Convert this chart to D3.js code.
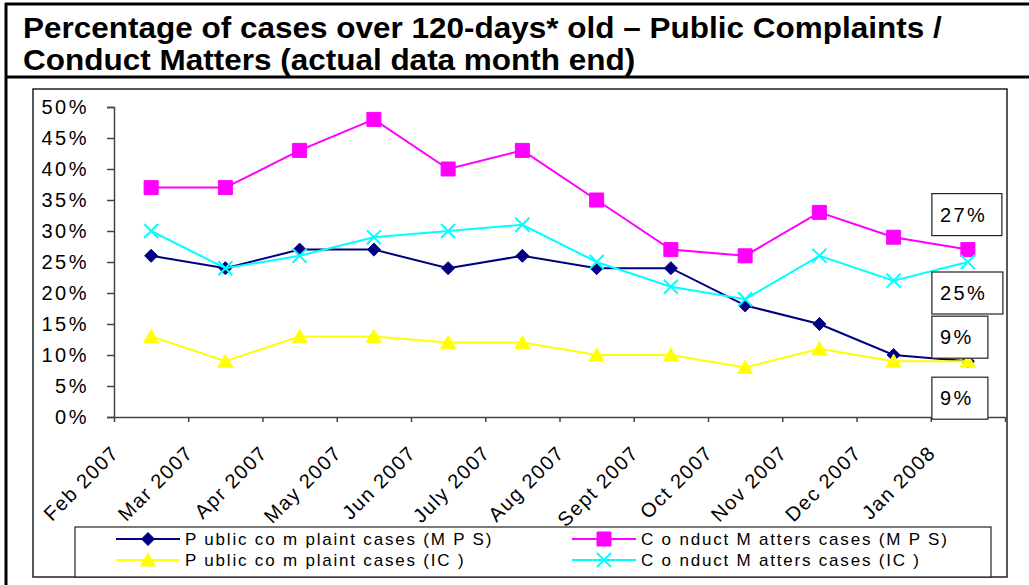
<!DOCTYPE html>
<html>
<head>
<meta charset="utf-8">
<script src="https://cdn.jsdelivr.net/npm/d3@7"></script>
<style>
  body { margin: 0; background: #fff; }
  text { font-family: "Liberation Sans", Arial, sans-serif; }
</style>
</head>
<body>
<div id="chart"></div>
<script>
// Chart data
var months = ["Feb 2007", "Mar 2007", "Apr 2007", "May 2007", "Jun 2007", "July 2007",
  "Aug 2007", "Sept 2007", "Oct 2007", "Nov 2007", "Dec 2007", "Jan 2008"];
var publicMPS = [26, 24, 27, 27, 24, 26, 24, 24, 18, 15, 10, 9];
var conductMPS = [37, 37, 43, 48, 40, 43, 35, 27, 26, 33, 29, 27];
var publicIC = [13, 9, 13, 13, 12, 12, 10, 10, 8, 11, 9, 9];
var conductIC = [30, 24, 26, 29, 30, 31, 25, 21, 19, 26, 22, 25];
var yTicks = [0, 5, 10, 15, 20, 25, 30, 35, 40, 45, 50];
var seriesNames = ["P ublic co m plaint cases (M P S)", "C o nduct M atters cases (M P S)",
  "P ublic co m plaint cases (IC )", "C o nduct M atters cases (IC )"];

var svgWidth = 1029;
var svgHeight = 585;

var svg = d3.select("#chart")
  .append("svg")
  .attr("width", svgWidth)
  .attr("height", svgHeight);

svg.append("rect").attr("width", svgWidth).attr("height", svgHeight).attr("fill", "#fff");

// outer frame + title band
svg.append("line").attr("x1", 6).attr("y1", 3).attr("x2", 6).attr("y2", svgHeight)
  .attr("stroke", "#000").attr("stroke-width", 3);
svg.append("line").attr("x1", 5).attr("y1", 4).attr("x2", svgWidth).attr("y2", 4)
  .attr("stroke", "#000").attr("stroke-width", 3);
svg.append("line").attr("x1", 5).attr("y1", 77).attr("x2", svgWidth).attr("y2", 77)
  .attr("stroke", "#000").attr("stroke-width", 3);

// title is a bit wider than Liberation Sans, so stretch it horizontally
var title = svg.append("text")
  .attr("transform", "translate(23, 0) scale(1.086, 1)")
  .attr("font-size", 29)
  .attr("font-weight", "bold")
  .attr("fill", "#000");
title.append("tspan").attr("x", 0).attr("y", 38)
  .text("Percentage of cases over 120-days* old \u2013 Public Complaints /");
title.append("tspan").attr("x", 0).attr("y", 70)
  .text("Conduct Matters (actual data month end)");

// chart area box
svg.append("rect")
  .attr("x", 33).attr("y", 89).attr("width", 974).attr("height", 488)
  .attr("fill", "none").attr("stroke", "#222").attr("stroke-width", 1.5);

var plotLeft = 114, plotRight = 1005, plotTop = 107, plotBottom = 417;

var xScale = d3.scaleLinear().domain([0, months.length]).range([plotLeft, plotRight]);
var yScale = d3.scaleLinear().domain([0, 50]).range([plotBottom, plotTop]);

// y axis
var leftAxis = d3.axisLeft(yScale)
  .tickValues(yTicks)
  .tickSize(7)
  .tickPadding(18)
  .tickFormat(d => d + "%");
var yG = svg.append("g")
  .attr("transform", `translate(${plotLeft}, 0)`)
  .call(leftAxis);
yG.select(".domain").attr("stroke", "#444").attr("stroke-width", 1.5);
yG.selectAll(".tick line").attr("stroke", "#444").attr("stroke-width", 1.5);
yG.selectAll(".tick text")
  .attr("font-family", "Liberation Sans, Arial, sans-serif")
  .attr("font-size", 20)
  .attr("letter-spacing", 2.5)
  .attr("fill", "#000");

// x axis (ticks at band edges)
var bottomAxis = d3.axisBottom(xScale)
  .tickValues(d3.range(months.length + 1))
  .tickSize(5)
  .tickSizeOuter(0)
  .tickFormat("");
var xG = svg.append("g")
  .attr("transform", `translate(0, ${plotBottom})`)
  .call(bottomAxis);
xG.select(".domain").attr("stroke", "#444").attr("stroke-width", 1.5);
xG.selectAll(".tick line").attr("stroke", "#444").attr("stroke-width", 1.5);

svg.selectAll(".xlabel")
  .data(months)
  .enter()
  .append("text")
  .attr("class", "xlabel")
  .attr("transform", (d, i) => `translate(${xScale(i + 0.5) - 31}, 454) rotate(-45)`)
  .attr("text-anchor", "end")
  .attr("font-size", 20)
  .attr("letter-spacing", 1.5)
  .attr("fill", "#000")
  .text(d => d);

// markers
var markers = {
  diamond: "M0,-6.5L6.5,0L0,6.5L-6.5,0Z",
  square: "M-7,-7L7,-7L7,7L-7,7Z",
  triangle: "M0,-7L7.5,6L-7.5,6Z",
  cross: "M-7,-7L7,7M-7,7L7,-7"
};

var series = [
  { name: seriesNames[0], values: publicMPS, color: "#000080", marker: "diamond" },
  { name: seriesNames[1], values: conductMPS, color: "#FF00FF", marker: "square" },
  { name: seriesNames[2], values: publicIC, color: "#FFFF00", marker: "triangle" },
  { name: seriesNames[3], values: conductIC, color: "#00FFFF", marker: "cross" }
];

var line = d3.line()
  .x((d, i) => xScale(i + 0.5))
  .y(d => yScale(d));

function drawMarker(sel, s) {
  sel.append("path")
    .attr("d", markers[s.marker])
    .attr("fill", s.marker == "cross" ? "none" : s.color)
    .attr("stroke", s.color)
    .attr("stroke-width", s.marker == "cross" ? 2 : 1);
}

series.forEach(function(s) {
  var g = svg.append("g");
  g.append("path")
    .datum(s.values)
    .attr("d", line)
    .attr("fill", "none")
    .attr("stroke", s.color)
    .attr("stroke-width", 2);
  g.selectAll(".pt")
    .data(s.values)
    .enter()
    .append("g")
    .attr("transform", (d, i) => `translate(${xScale(i + 0.5)}, ${yScale(d)})`)
    .each(function() { drawMarker(d3.select(this), s); });
});

// value boxes at the end of each line
var boxes = [
  { s: 1, dy: -56, w: 70 },
  { s: 3, dy: 10, w: 71 },
  { s: 0, dy: -45, w: 56 },
  { s: 2, dy: 16, w: 56 }
];
var last = months.length - 1;
boxes.forEach(function(b) {
  var v = series[b.s].values[last];
  var bx = xScale(last + 0.5) - 36;
  var by = yScale(v) + b.dy;
  svg.append("rect")
    .attr("x", bx).attr("y", by).attr("width", b.w).attr("height", 42)
    .attr("fill", "#fff").attr("stroke", "#222").attr("stroke-width", 1.2);
  svg.append("text")
    .attr("x", bx + 8).attr("y", by + 28)
    .attr("font-size", 20)
    .attr("letter-spacing", 2.5)
    .attr("fill", "#000")
    .text(v + "%");
});

// legend
var legend = svg.append("g");
legend.append("rect")
  .attr("x", 75).attr("y", 527).attr("width", 916).attr("height", 50)
  .attr("fill", "#fff").attr("stroke", "#222").attr("stroke-width", 1.2);

var legendPos = [[116, 539], [572, 539], [116, 560], [572, 560]];
series.forEach(function(s, i) {
  var p = legendPos[i];
  var lg = legend.append("g").attr("transform", `translate(${p[0]}, ${p[1]})`);
  lg.append("line").attr("x1", 0).attr("x2", 64).attr("y1", 0).attr("y2", 0)
    .attr("stroke", s.color).attr("stroke-width", 2);
  drawMarker(lg.append("g").attr("transform", "translate(32, 0)"), s);
  lg.append("text")
    .attr("x", 69).attr("y", 6)
    .attr("font-size", 17)
    .attr("letter-spacing", 1.8)
    .attr("fill", "#000")
    .text(s.name);
});
</script>
</body>
</html>
